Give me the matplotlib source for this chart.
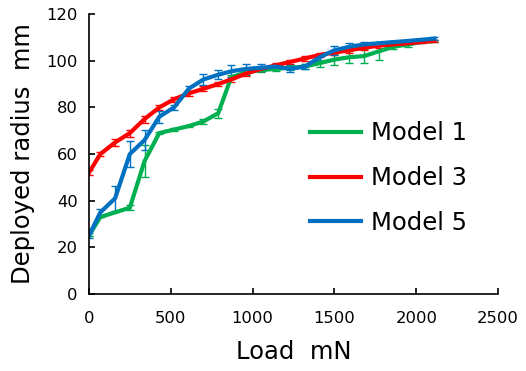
import matplotlib
matplotlib.use('Agg')
import matplotlib.pyplot as plt
import numpy as np

# load (mN) and deployed radius (mm)
load = [0, 70, 160, 250, 340, 430, 520, 610, 700, 790, 870, 960, 1050,
        1140, 1230, 1320, 1410, 1500, 1590, 1680, 1770, 1860, 1950, 2030, 2110]

model1 = [25, 33, 35, 37, 57, 69, 70.5, 72, 74, 77.5, 93, 95, 96,
          96.5, 97, 97.5, 99, 100.5, 101.5, 102, 104, 106, 107, 108, 108.5]
model1_err = [0, 0, 0, 1, 7, 0.5, 0.5, 0.5, 1, 2, 1, 1, 1,
              1, 1, 1, 1.5, 2.5, 2.5, 3, 3.5, 1, 1, 0.5, 0.5]

model3 = [52, 60, 65, 69, 75, 80, 83.5, 86, 88, 90, 92, 94.5, 96.5,
          98, 99.5, 101, 102.5, 103.5, 104.5, 105.5, 106.5, 107, 107.5, 108, 108.5]
model3_err = [1, 1, 1.5, 1.5, 1.5, 1, 1, 1, 1, 1, 1, 1, 1,
              1, 1, 1, 1, 1, 1, 1, 1, 0.5, 0.5, 0.5, 0.5]

model5 = [25, 35, 41, 60, 66, 76, 80, 88, 92, 94, 95.5, 96.5, 97,
          97.5, 96.5, 97.5, 101.5, 104.5, 106, 107, 107.5, 108, 108.5, 109, 109.5]
model5_err = [1, 1.5, 5.5, 5.7, 4.4, 2.5, 1, 1, 2.5, 2, 2.5, 2, 1.5,
              1, 1.5, 1, 1.5, 2, 1.5, 1, 0.5, 0.5, 0.5, 0.5, 0.5]

fig = plt.figure(figsize=(5.26, 3.71), dpi=100)
ax = fig.add_axes([0.169, 0.2075, 0.778, 0.7545])

series = [('Model 1', model1, model1_err, '#00B050'),
          ('Model 3', model3, model3_err, '#FF0000'),
          ('Model 5', model5, model5_err, '#0070C0')]
for name, vals, err, col in series:
    ax.errorbar(load, vals, yerr=err, color=col, lw=3, elinewidth=1,
                capsize=2.8, capthick=1, label=name)

ax.set_xlim(0, 2500)
ax.set_ylim(0, 120)
ax.set_xticks(np.arange(0, 2501, 500))
ax.set_yticks(np.arange(0, 121, 20))
for s in ['top', 'right']:
    ax.spines[s].set_visible(False)
for s in ['left', 'bottom']:
    ax.spines[s].set_linewidth(1.2)
ax.tick_params(direction='in', length=4, width=1.2, labelsize=11.8)
ax.tick_params(axis='x', pad=12)
ax.tick_params(axis='y', pad=8)
ax.set_xlabel('Load  mN', fontsize=17.5, labelpad=10)
ax.set_ylabel('Deployed radius  mm', fontsize=17.5, labelpad=8)

handles, labels = ax.get_legend_handles_labels()
handles = [h[0] for h in handles]
ax.legend(handles, labels, loc='center left', bbox_to_anchor=(0.54, 0.414),
          frameon=False, fontsize=17.5, borderpad=0, borderaxespad=0,
          labelspacing=0.85, handlelength=2.1, handletextpad=0.4)

fig.savefig('out.png', dpi=100)
